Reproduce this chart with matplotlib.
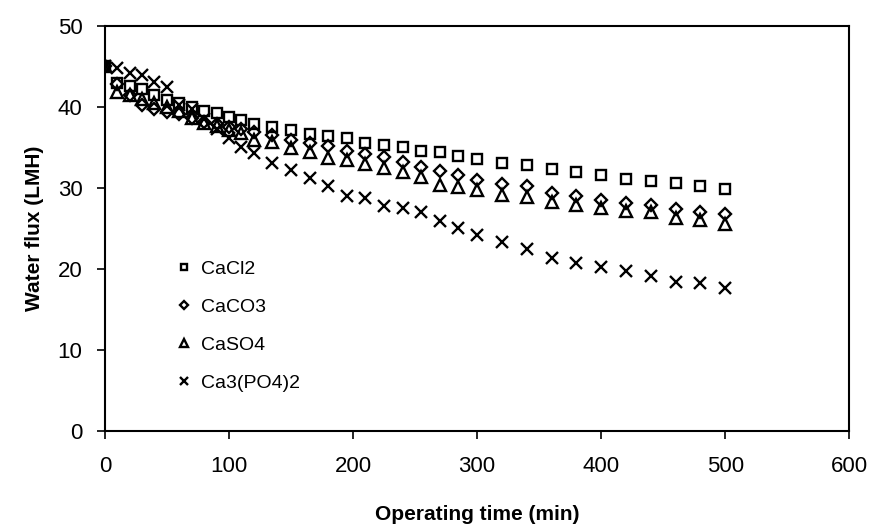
import matplotlib.pyplot as plt

# Dados
tempo = [0, 10, 20, 30, 40, 50, 60, 70, 80, 90, 100, 110, 120,
         135, 150, 165, 180, 195, 210, 225, 240, 255, 270, 285, 300,
         320, 340, 360, 380, 400, 420, 440, 460, 480, 500]

cacl2 = [45.0, 43.0, 42.6, 42.2, 41.5, 40.9, 40.5, 40.0, 39.5, 39.2, 38.8, 38.4, 37.9,
         37.5, 37.1, 36.7, 36.4, 36.2, 35.6, 35.3, 35.0, 34.6, 34.4, 34.0, 33.6,
         33.1, 32.8, 32.3, 32.0, 31.6, 31.1, 30.8, 30.6, 30.2, 29.9]

caco3 = [45.0, 42.8, 41.5, 40.3, 39.8, 39.4, 39.1, 38.6, 38.2, 37.9, 37.5, 37.3, 36.9,
         36.5, 35.9, 35.6, 35.2, 34.6, 34.2, 33.8, 33.2, 32.6, 32.1, 31.6, 31.0,
         30.5, 30.2, 29.4, 29.0, 28.5, 28.2, 27.9, 27.4, 27.0, 26.8]

caso4 = [45.0, 41.8, 41.5, 41.0, 40.5, 40.0, 39.5, 38.6, 38.0, 37.7, 37.2, 36.8, 35.9,
         35.7, 34.9, 34.4, 33.7, 33.4, 33.0, 32.5, 32.0, 31.4, 30.4, 30.1, 29.8,
         29.1, 28.9, 28.3, 27.9, 27.5, 27.1, 27.0, 26.3, 26.0, 25.5]

ca3po42 = [45.0, 44.8, 44.2, 44.0, 43.1, 42.5, 40.3, 39.8, 38.5, 37.3, 36.2, 35.0, 34.3,
           33.1, 32.2, 31.2, 30.2, 29.0, 28.7, 27.8, 27.5, 27.0, 25.9, 25.1, 24.2,
           23.3, 22.5, 21.4, 20.7, 20.2, 19.8, 19.1, 18.4, 18.3, 17.7]

plt.rcParams['font.family'] = ['Liberation Sans', 'DejaVu Sans']

fig = plt.figure(figsize=(8.81, 5.30), dpi=100)
ax = fig.add_axes([0.119, 0.187, 0.845, 0.764])

estilo = dict(linestyle='none', markerfacecolor='none', markeredgecolor='black',
              markeredgewidth=1.7, color='black')
ax.plot(tempo, cacl2, marker='s', markersize=7, label='CaCl2', **estilo)
ax.plot(tempo, caco3, marker='D', markersize=6.5, label='CaCO3', **estilo)
ax.plot(tempo, caso4, marker='^', markersize=8, label='CaSO4', **estilo)
ax.plot(tempo, ca3po42, marker='x', markersize=9, label='Ca3(PO4)2', **estilo)

ax.set_xlim(0, 600)
ax.set_ylim(0, 50)
ax.set_xticks(range(0, 601, 100))
ax.set_yticks(range(0, 51, 10))
ax.tick_params(direction='out', length=6, width=1.2, labelsize=16)
ax.tick_params(axis='x', pad=12)
ax.tick_params(axis='y', pad=10)
for s in ax.spines.values():
    s.set_linewidth(1.5)

ax.set_xlabel('Operating time (min)', fontsize=15, fontweight='bold', labelpad=20)
ax.set_ylabel('Water flux (LMH)', fontsize=15, fontweight='bold', labelpad=10)

leg = ax.legend(loc='upper left', bbox_to_anchor=(0.07, 0.465), frameon=False,
                fontsize=14, labelspacing=1.05, handletextpad=0.35, markerscale=0.7,
                handlelength=1.0)

plt.savefig('out.png', dpi=100)
